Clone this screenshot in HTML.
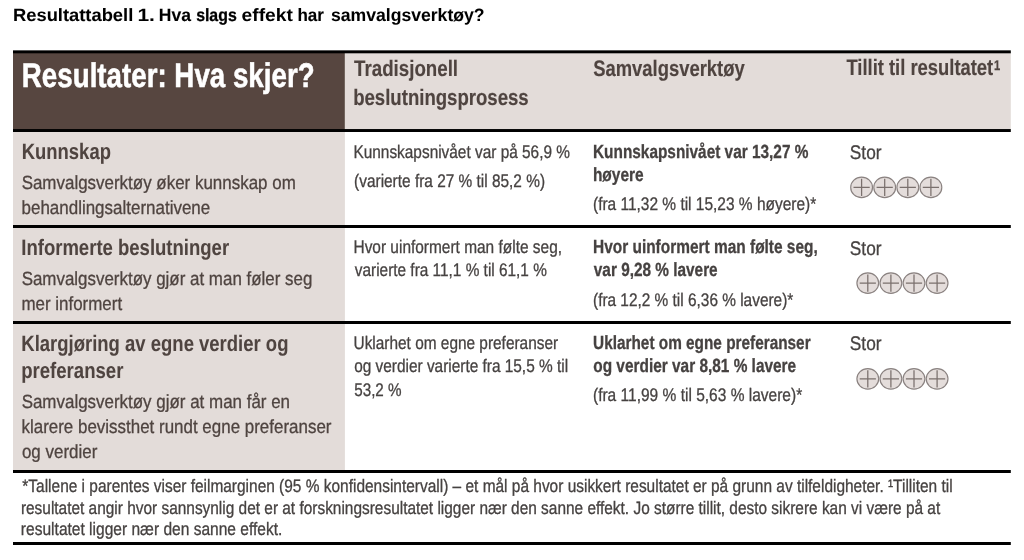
<!DOCTYPE html>
<html lang="no">
<head>
<meta charset="utf-8">
<title>Resultattabell 1</title>
<style>
html,body{margin:0;padding:0;background:#fff;}
body{width:1024px;height:560px;position:relative;overflow:hidden;font-family:"Liberation Sans", sans-serif;}
.t{position:absolute;left:0;top:0;white-space:nowrap;line-height:1;transform-origin:0 0;text-rendering:geometricPrecision;}
svg{position:absolute;left:0;top:0;}
</style>
</head>
<body>
<svg width="1024" height="560" viewBox="0 0 1024 560">
<rect x="13" y="52" width="331.9" height="78" fill="#574640"/>
<rect x="344.9" y="52" width="665.9" height="78" fill="#e3dcd9"/>
<rect x="13" y="131" width="331.9" height="340" fill="#e3dcd9"/>
<g fill="#000">
<rect x="13" y="50.35" width="997.8" height="2.95"/>
<rect x="13" y="129.05" width="997.8" height="2.95"/>
<rect x="13" y="225" width="997.8" height="3"/>
<rect x="13" y="321" width="997.8" height="3"/>
<rect x="13" y="470" width="997.8" height="3"/>
<rect x="13" y="542" width="997.8" height="3"/>
</g>
<ellipse cx="861.60" cy="187.40" rx="10.9" ry="10.25" fill="#e4dddb" stroke="#8a8280" stroke-width="1.15"/><path d="M853.50 187.40H869.70M861.60 178.80V196.00" stroke="#7a706d" stroke-width="1.25" fill="none"/><ellipse cx="884.70" cy="187.40" rx="10.9" ry="10.25" fill="#e4dddb" stroke="#8a8280" stroke-width="1.15"/><path d="M876.60 187.40H892.80M884.70 178.80V196.00" stroke="#7a706d" stroke-width="1.25" fill="none"/><ellipse cx="907.80" cy="187.40" rx="10.9" ry="10.25" fill="#e4dddb" stroke="#8a8280" stroke-width="1.15"/><path d="M899.70 187.40H915.90M907.80 178.80V196.00" stroke="#7a706d" stroke-width="1.25" fill="none"/><ellipse cx="930.90" cy="187.40" rx="10.9" ry="10.25" fill="#e4dddb" stroke="#8a8280" stroke-width="1.15"/><path d="M922.80 187.40H939.00M930.90 178.80V196.00" stroke="#7a706d" stroke-width="1.25" fill="none"/>
<ellipse cx="867.80" cy="283.10" rx="10.9" ry="10.25" fill="#e4dddb" stroke="#8a8280" stroke-width="1.15"/><path d="M859.70 283.10H875.90M867.80 274.50V291.70" stroke="#7a706d" stroke-width="1.25" fill="none"/><ellipse cx="890.90" cy="283.10" rx="10.9" ry="10.25" fill="#e4dddb" stroke="#8a8280" stroke-width="1.15"/><path d="M882.80 283.10H899.00M890.90 274.50V291.70" stroke="#7a706d" stroke-width="1.25" fill="none"/><ellipse cx="914.00" cy="283.10" rx="10.9" ry="10.25" fill="#e4dddb" stroke="#8a8280" stroke-width="1.15"/><path d="M905.90 283.10H922.10M914.00 274.50V291.70" stroke="#7a706d" stroke-width="1.25" fill="none"/><ellipse cx="937.10" cy="283.10" rx="10.9" ry="10.25" fill="#e4dddb" stroke="#8a8280" stroke-width="1.15"/><path d="M929.00 283.10H945.20M937.10 274.50V291.70" stroke="#7a706d" stroke-width="1.25" fill="none"/>
<ellipse cx="867.80" cy="378.85" rx="10.9" ry="10.25" fill="#e4dddb" stroke="#8a8280" stroke-width="1.15"/><path d="M859.70 378.85H875.90M867.80 370.25V387.45" stroke="#7a706d" stroke-width="1.25" fill="none"/><ellipse cx="890.90" cy="378.85" rx="10.9" ry="10.25" fill="#e4dddb" stroke="#8a8280" stroke-width="1.15"/><path d="M882.80 378.85H899.00M890.90 370.25V387.45" stroke="#7a706d" stroke-width="1.25" fill="none"/><ellipse cx="914.00" cy="378.85" rx="10.9" ry="10.25" fill="#e4dddb" stroke="#8a8280" stroke-width="1.15"/><path d="M905.90 378.85H922.10M914.00 370.25V387.45" stroke="#7a706d" stroke-width="1.25" fill="none"/><ellipse cx="937.10" cy="378.85" rx="10.9" ry="10.25" fill="#e4dddb" stroke="#8a8280" stroke-width="1.15"/><path d="M929.00 378.85H945.20M937.10 370.25V387.45" stroke="#7a706d" stroke-width="1.25" fill="none"/>
</svg>
<div class="t" style="font-size:17.8px;transform:translate(13.04px,6.50px) scaleX(1.0309);color:#000;font-weight:bold;-webkit-text-stroke:0.05px #000;">Resultattabell</div>
<div class="t" style="font-size:17.8px;transform:translate(137.44px,6.50px) scaleX(1.1799);color:#000;font-weight:bold;-webkit-text-stroke:0px #000;">1.</div>
<div class="t" style="font-size:17.8px;transform:translate(158.85px,6.50px) scaleX(0.9858);color:#000;font-weight:bold;-webkit-text-stroke:0.1px #000;">Hva</div>
<div class="t" style="font-size:17.8px;transform:translate(196.13px,6.50px) scaleX(0.8930);color:#000;font-weight:bold;-webkit-text-stroke:0.3px #000;">slags</div>
<div class="t" style="font-size:17.8px;transform:translate(241.59px,6.50px) scaleX(1.0810);color:#000;font-weight:bold;-webkit-text-stroke:0px #000;">effekt</div>
<div class="t" style="font-size:17.8px;transform:translate(297.47px,6.50px) scaleX(0.9575);color:#000;font-weight:bold;-webkit-text-stroke:0.1px #000;">har</div>
<div class="t" style="font-size:17.8px;transform:translate(330.98px,6.50px) scaleX(0.9895);color:#000;font-weight:bold;-webkit-text-stroke:0.05px #000;">samvalgsverktøy?</div>
<div class="t" style="font-size:34.2px;transform:translate(21.84px,59.00px) scaleX(0.8110);color:#fff;font-weight:bold;-webkit-text-stroke:0.55px #fff;">Resultater: Hva skjer?</div>
<div class="t" style="font-size:22.5px;transform:translate(354.08px,57.75px) scaleX(0.8313);color:#4f4440;font-weight:bold;-webkit-text-stroke:0.15px #4f4440;">Tradisjonell</div>
<div class="t" style="font-size:22.5px;transform:translate(353.17px,86.50px) scaleX(0.8257);color:#4f4440;font-weight:bold;-webkit-text-stroke:0.15px #4f4440;">beslutningsprosess</div>
<div class="t" style="font-size:22.5px;transform:translate(593.22px,57.50px) scaleX(0.8180);color:#4f4440;font-weight:bold;-webkit-text-stroke:0.15px #4f4440;">Samvalgsverktøy</div>
<div class="t" style="font-size:22.5px;transform:translate(846.42px,57.40px) scaleX(0.8172);color:#4f4440;font-weight:bold;-webkit-text-stroke:0.15px #4f4440;">Tillit til resultatet</div>
<div class="t" style="font-size:14px;transform:translate(993.90px,58.20px) scaleX(0.8000);color:#4f4440;font-weight:bold;-webkit-text-stroke:0.25px #4f4440;">1</div>
<div class="t" style="font-size:22.3px;transform:translate(21.72px,141.30px) scaleX(0.8275);color:#4f4440;font-weight:bold;-webkit-text-stroke:0.05px #4f4440;">Kunnskap</div>
<div class="t" style="font-size:19.1px;transform:translate(21.63px,173.75px) scaleX(0.8878);color:#4f4440;-webkit-text-stroke:0.3px #4f4440;">Samvalgsverktøy øker kunnskap om</div>
<div class="t" style="font-size:19.1px;transform:translate(21.50px,198.90px) scaleX(0.8890);color:#4f4440;-webkit-text-stroke:0.3px #4f4440;">behandlingsalternativene</div>
<div class="t" style="font-size:18.2px;transform:translate(353.48px,142.75px) scaleX(0.8462);color:#464241;-webkit-text-stroke:0.3px #464241;">Kunnskapsnivået var på 56,9 %</div>
<div class="t" style="font-size:18.2px;transform:translate(354.10px,171.60px) scaleX(0.8471);color:#464241;-webkit-text-stroke:0.3px #464241;">(varierte fra 27 % til 85,2 %)</div>
<div class="t" style="font-size:19px;transform:translate(593.02px,142.50px) scaleX(0.8093);color:#464241;font-weight:bold;-webkit-text-stroke:0.3px #464241;">Kunnskapsnivået var 13,27 %</div>
<div class="t" style="font-size:19px;transform:translate(592.92px,165.50px) scaleX(0.8133);color:#464241;font-weight:bold;-webkit-text-stroke:0.3px #464241;">høyere</div>
<div class="t" style="font-size:18.2px;transform:translate(592.99px,194.50px) scaleX(0.8504);color:#464241;-webkit-text-stroke:0.3px #464241;">(fra 11,32 % til 15,23 % høyere)*</div>
<div class="t" style="font-size:19.7px;transform:translate(849.85px,143.75px) scaleX(0.8769);color:#464241;-webkit-text-stroke:0.3px #464241;">Stor</div>
<div class="t" style="font-size:22.3px;transform:translate(21.26px,237.00px) scaleX(0.8306);color:#4f4440;font-weight:bold;-webkit-text-stroke:0.05px #4f4440;">Informerte beslutninger</div>
<div class="t" style="font-size:19.1px;transform:translate(21.64px,270.00px) scaleX(0.8867);color:#4f4440;-webkit-text-stroke:0.3px #4f4440;">Samvalgsverktøy gjør at man føler seg</div>
<div class="t" style="font-size:19.1px;transform:translate(21.42px,295.00px) scaleX(0.8872);color:#4f4440;-webkit-text-stroke:0.3px #4f4440;">mer informert</div>
<div class="t" style="font-size:18.2px;transform:translate(353.48px,238.00px) scaleX(0.8490);color:#464241;-webkit-text-stroke:0.3px #464241;">Hvor uinformert man følte seg,</div>
<div class="t" style="font-size:18.2px;transform:translate(354.81px,261.25px) scaleX(0.8457);color:#464241;-webkit-text-stroke:0.3px #464241;">varierte fra 11,1 % til 61,1 %</div>
<div class="t" style="font-size:19px;transform:translate(593.00px,238.00px) scaleX(0.8126);color:#464241;font-weight:bold;-webkit-text-stroke:0.3px #464241;">Hvor uinformert man følte seg,</div>
<div class="t" style="font-size:19px;transform:translate(593.83px,261.25px) scaleX(0.8083);color:#464241;font-weight:bold;-webkit-text-stroke:0.3px #464241;">var 9,28 % lavere</div>
<div class="t" style="font-size:18.2px;transform:translate(593.00px,291.25px) scaleX(0.8466);color:#464241;-webkit-text-stroke:0.3px #464241;">(fra 12,2 % til 6,36 % lavere)*</div>
<div class="t" style="font-size:19.7px;transform:translate(849.85px,239.50px) scaleX(0.8769);color:#464241;-webkit-text-stroke:0.3px #464241;">Stor</div>
<div class="t" style="font-size:22.3px;transform:translate(21.27px,332.50px) scaleX(0.8294);color:#4f4440;font-weight:bold;-webkit-text-stroke:0.05px #4f4440;">Klargjøring av egne verdier og</div>
<div class="t" style="font-size:22.3px;transform:translate(21.19px,359.50px) scaleX(0.8329);color:#4f4440;font-weight:bold;-webkit-text-stroke:0.05px #4f4440;">preferanser</div>
<div class="t" style="font-size:19.1px;transform:translate(21.64px,392.50px) scaleX(0.8875);color:#4f4440;-webkit-text-stroke:0.3px #4f4440;">Samvalgsverktøy gjør at man får en</div>
<div class="t" style="font-size:19.1px;transform:translate(21.48px,418.00px) scaleX(0.8877);color:#4f4440;-webkit-text-stroke:0.3px #4f4440;">klarere bevissthet rundt egne preferanser</div>
<div class="t" style="font-size:19.1px;transform:translate(21.93px,442.50px) scaleX(0.8882);color:#4f4440;-webkit-text-stroke:0.3px #4f4440;">og verdier</div>
<div class="t" style="font-size:18.2px;transform:translate(353.54px,333.75px) scaleX(0.8467);color:#464241;-webkit-text-stroke:0.3px #464241;">Uklarhet om egne preferanser</div>
<div class="t" style="font-size:18.2px;transform:translate(354.19px,357.00px) scaleX(0.8463);color:#464241;-webkit-text-stroke:0.3px #464241;">og verdier varierte fra 15,5 % til</div>
<div class="t" style="font-size:18.2px;transform:translate(354.19px,380.50px) scaleX(0.8374);color:#464241;-webkit-text-stroke:0.3px #464241;">53,2 %</div>
<div class="t" style="font-size:19px;transform:translate(593.08px,333.75px) scaleX(0.8079);color:#464241;font-weight:bold;-webkit-text-stroke:0.3px #464241;">Uklarhet om egne preferanser</div>
<div class="t" style="font-size:19px;transform:translate(593.28px,357.00px) scaleX(0.8104);color:#464241;font-weight:bold;-webkit-text-stroke:0.3px #464241;">og verdier var 8,81 % lavere</div>
<div class="t" style="font-size:18.2px;transform:translate(592.98px,385.50px) scaleX(0.8529);color:#464241;-webkit-text-stroke:0.3px #464241;">(fra 11,99 % til 5,63 % lavere)*</div>
<div class="t" style="font-size:19.7px;transform:translate(849.85px,335.00px) scaleX(0.8769);color:#464241;-webkit-text-stroke:0.3px #464241;">Stor</div>
<div class="t" style="font-size:18px;transform:translate(22.35px,477.00px) scaleX(0.8583);color:#464241;-webkit-text-stroke:0.3px #464241;">*Tallene i parentes viser feilmarginen (95 % konfidensintervall) – et mål på hvor usikkert resultatet er på grunn av tilfeldigheter. ¹Tilliten til</div>
<div class="t" style="font-size:18px;transform:translate(20.89px,498.65px) scaleX(0.8566);color:#464241;-webkit-text-stroke:0.3px #464241;">resultatet angir hvor sannsynlig det er at forskningsresultatet ligger nær den sanne effekt. Jo større tillit, desto sikrere kan vi være på at</div>
<div class="t" style="font-size:18px;transform:translate(20.87px,520.40px) scaleX(0.8635);color:#464241;-webkit-text-stroke:0.3px #464241;">resultatet ligger nær den sanne effekt.</div>
</body>
</html>
